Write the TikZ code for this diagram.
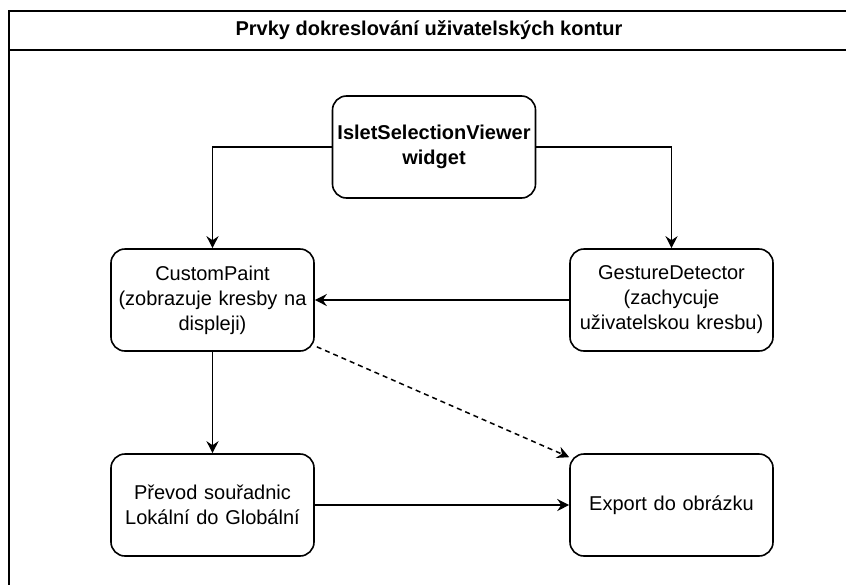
\documentclass[tikz,border=0pt]{standalone}
\usepackage{fontspec}
\setmainfont{Liberation Sans}
\usetikzlibrary{arrows.meta}
\begin{document}
\begin{tikzpicture}[x=1pt,y=-1pt,
  box/.style={draw, line width=1.6pt, rounded corners=14pt, minimum width=203pt, minimum height=102pt,
    align=center, font=\fontsize{20}{25}\selectfont, inner sep=0pt, text width=200pt},
  frameline/.style={line width=1.6pt},
  conn/.style={line width=1.5pt, -{Stealth[length=12pt,width=12pt,inset=4pt]}},
]
\useasboundingbox (0,0) rectangle (846,584);
\clip (0,0) rectangle (846,584);
\draw[frameline] (9,600) -- (9,11) -- (870,11) (9,50) -- (870,50);
\node[font=\bfseries\fontsize{20}{25}\selectfont] (title) at (429,30) {Prvky dokreslování uživatelských kontur};

\node[box, font=\bfseries\fontsize{20}{25}\selectfont] (islet) at (434,147) {IsletSelectionViewer\\widget};
\node[box] (cp) at (212.5,300) {CustomPaint\\(zobrazuje kresby na\\displeji)};
\node[box] (gd) at (671.5,300) {GestureDetector\\(zachycuje\\uživatelskou kresbu)};
\node[box] (pr) at (212.5,505) {Převod souřadnic\\Lokální do Globální};
\node[box] (ex) at (671.5,505) {Export do obrázku};

\draw[conn] (islet.west) -| (cp.north);
\draw[conn] (islet.east) -| (gd.north);
\draw[conn] (gd.west) -- (cp.east);
\draw[conn] (cp.south) -- (pr.north);
\draw[conn] (pr.east) -- (ex.west);
\draw[conn, dash pattern=on 5pt off 4pt] ([shift={(2,-5)}]cp.south east) -- ([shift={(0,4)}]ex.north west);
\end{tikzpicture}
\end{document}
